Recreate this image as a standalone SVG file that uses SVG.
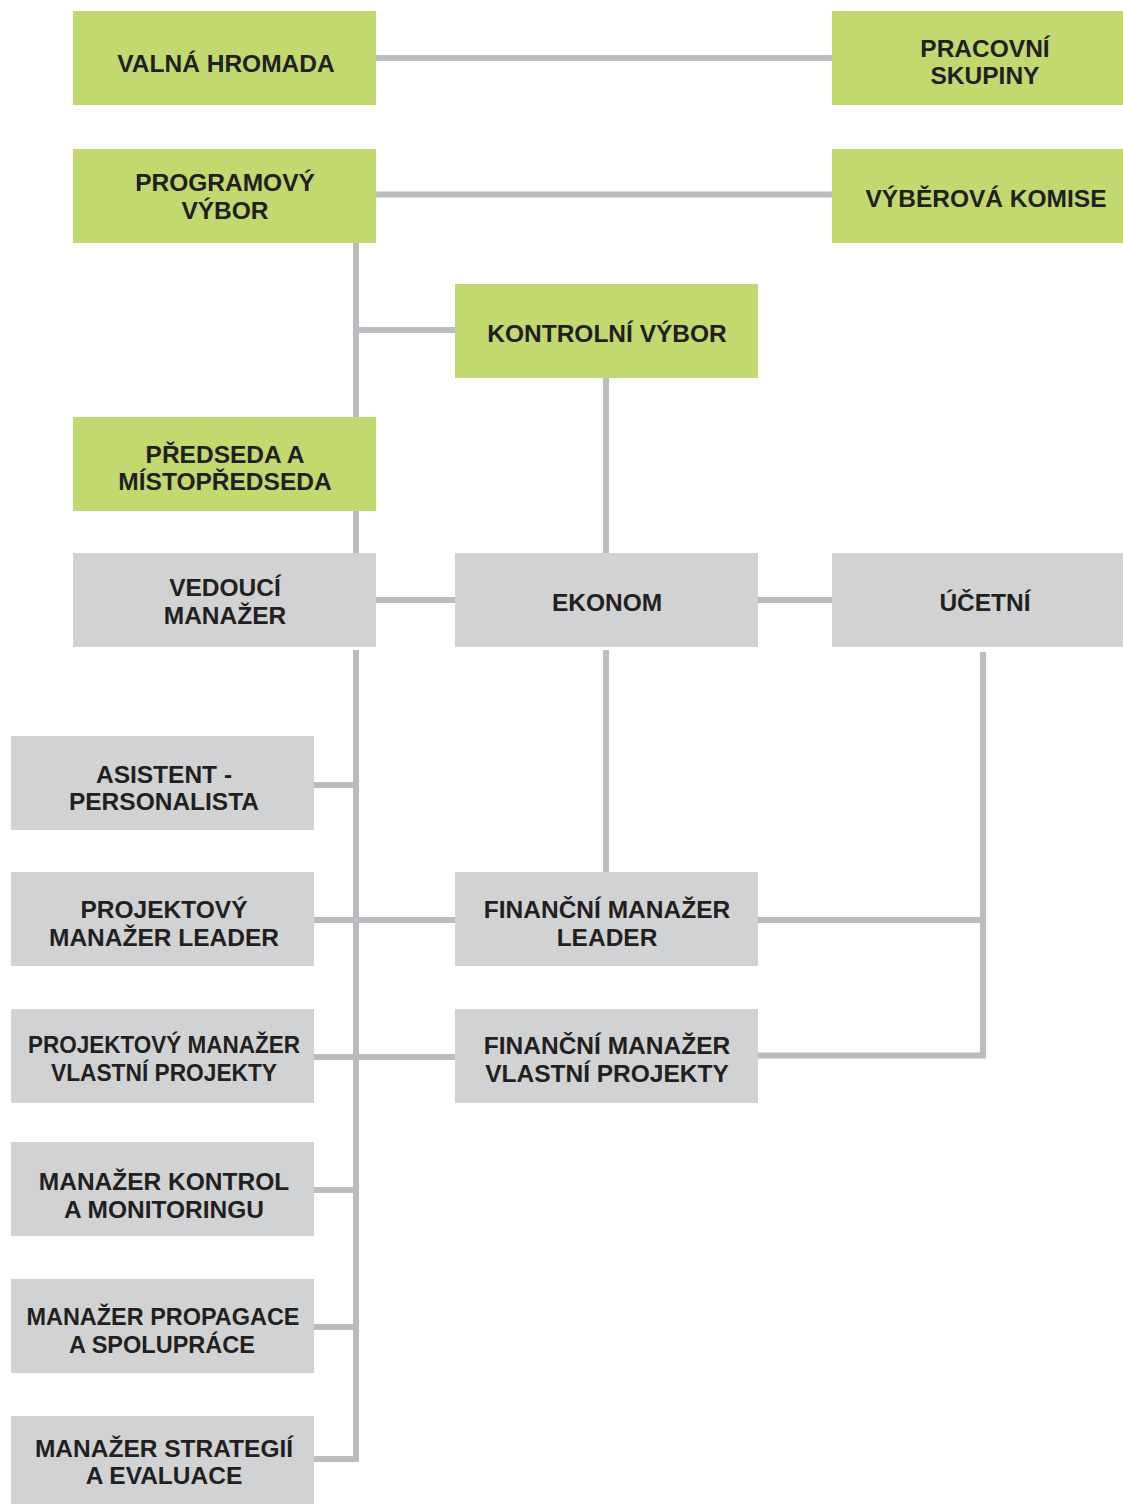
<svg xmlns="http://www.w3.org/2000/svg" width="1123" height="1504" viewBox="0 0 1123 1504">
<style>
.g{fill:#c1d96f}
.s{fill:#d1d2d4}
.t{font-family:"Liberation Sans",Arial,sans-serif;font-weight:bold;font-size:24.5px;fill:#231f20;text-anchor:middle}
.c{fill:none;stroke:#bbbcc0;stroke-width:6;stroke-linejoin:miter}
</style>
<rect width="1123" height="1504" fill="#ffffff"/>
<g id="connectors">
<path class="c" d="M376 58H832"/>
<path class="c" d="M376 194.5H832"/>
<path class="c" d="M356 243V417"/>
<path class="c" d="M356 330H455"/>
<path class="c" d="M356 511V553"/>
<path class="c" d="M606 378V553"/>
<path class="c" d="M376 600H455"/>
<path class="c" d="M758 600H832"/>
<path class="c" d="M356 650V1459H314"/>
<path class="c" d="M314 785H356"/>
<path class="c" d="M314 920H455"/>
<path class="c" d="M314 1057H455"/>
<path class="c" d="M314 1190H356"/>
<path class="c" d="M314 1327H356"/>
<path class="c" d="M606 650V872"/>
<path class="c" d="M983 652V1055.5H758"/>
<path class="c" d="M758 920H983"/>
</g>
<g id="valna-hromada"><rect class="g" x="73" y="11" width="303" height="94"/><text class="t" x="226" y="71.5">VALNÁ HROMADA</text></g>
<g id="pracovni-skupiny"><rect class="g" x="832" y="11" width="291" height="94"/><text class="t" x="985" y="56.7">PRACOVNÍ</text><text class="t" x="985" y="84.3">SKUPINY</text></g>
<g id="programovy-vybor"><rect class="g" x="73" y="149" width="303" height="94"/><text class="t" x="225" y="191">PROGRAMOVÝ</text><text class="t" x="225" y="219">VÝBOR</text></g>
<g id="vyberova-komise"><rect class="g" x="832" y="149" width="291" height="94"/><text class="t" x="986" y="207">VÝBĚROVÁ KOMISE</text></g>
<g id="kontrolni-vybor"><rect class="g" x="455" y="284" width="303" height="94"/><text class="t" x="607" y="342">KONTROLNÍ VÝBOR</text></g>
<g id="predseda"><rect class="g" x="73" y="417" width="303" height="94"/><text class="t" x="225" y="463">PŘEDSEDA A</text><text class="t" x="225" y="490">MÍSTOPŘEDSEDA</text></g>
<g id="vedouci-manazer"><rect class="s" x="73" y="553" width="303" height="94"/><text class="t" x="225" y="596">VEDOUCÍ</text><text class="t" x="225" y="624">MANAŽER</text></g>
<g id="ekonom"><rect class="s" x="455" y="553" width="303" height="94"/><text class="t" x="607" y="611">EKONOM</text></g>
<g id="ucetni"><rect class="s" x="832" y="553" width="291" height="94"/><text class="t" x="985" y="611">ÚČETNÍ</text></g>
<g id="asistent"><rect class="s" x="11" y="736" width="303" height="94"/><text class="t" x="164" y="783">ASISTENT -</text><text class="t" x="164" y="810">PERSONALISTA</text></g>
<g id="projektovy-leader"><rect class="s" x="11" y="872" width="303" height="94"/><text class="t" x="164" y="918">PROJEKTOVÝ</text><text class="t" x="164" y="946">MANAŽER LEADER</text></g>
<g id="financni-leader"><rect class="s" x="455" y="872" width="303" height="94"/><text class="t" x="607" y="918">FINANČNÍ MANAŽER</text><text class="t" x="607" y="946">LEADER</text></g>
<g id="projektovy-vlastni"><rect class="s" x="11" y="1009" width="303" height="94"/><text class="t" x="164" y="1053" textLength="272" lengthAdjust="spacingAndGlyphs">PROJEKTOVÝ MANAŽER</text><text class="t" x="164" y="1080.5" textLength="226" lengthAdjust="spacingAndGlyphs">VLASTNÍ PROJEKTY</text></g>
<g id="financni-vlastni"><rect class="s" x="455" y="1009" width="303" height="94"/><text class="t" x="607" y="1054">FINANČNÍ MANAŽER</text><text class="t" x="607" y="1082">VLASTNÍ PROJEKTY</text></g>
<g id="manazer-kontrol"><rect class="s" x="11" y="1142" width="303" height="94"/><text class="t" x="164" y="1190">MANAŽER KONTROL</text><text class="t" x="164" y="1218">A MONITORINGU</text></g>
<g id="manazer-propagace"><rect class="s" x="11" y="1279" width="303" height="94"/><text class="t" x="163" y="1325" textLength="273" lengthAdjust="spacingAndGlyphs">MANAŽER PROPAGACE</text><text class="t" x="162" y="1353" textLength="186" lengthAdjust="spacingAndGlyphs">A SPOLUPRÁCE</text></g>
<g id="manazer-strategii"><rect class="s" x="11" y="1416" width="303" height="94"/><text class="t" x="164" y="1457">MANAŽER STRATEGIÍ</text><text class="t" x="164" y="1484">A EVALUACE</text></g>
</svg>
